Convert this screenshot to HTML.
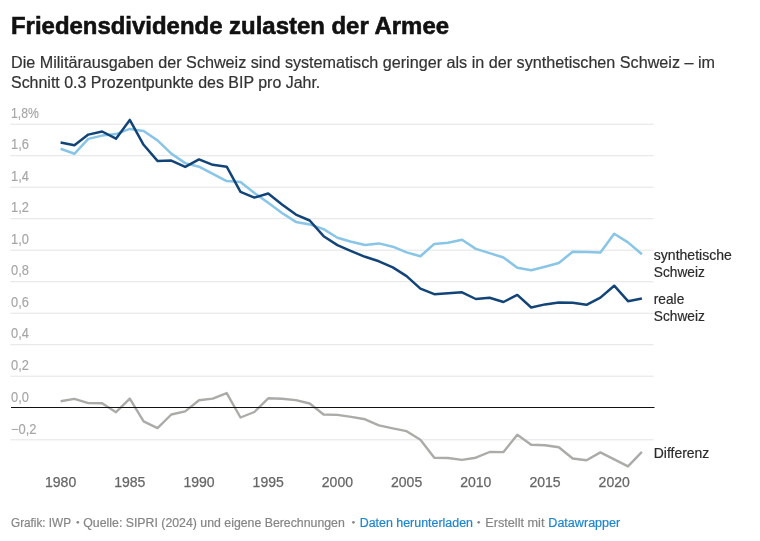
<!DOCTYPE html>
<html><head><meta charset="utf-8"><style>
html,body{margin:0;padding:0;background:#fff;width:760px;height:541px;overflow:hidden}
svg{display:block;will-change:transform}
text{font-family:"Liberation Sans", sans-serif}
.t{font-size:24.8px;font-weight:bold;fill:#111;stroke:#111;stroke-width:0.6px}
.s{font-size:16px;fill:#333;stroke:#333;stroke-width:0.2px}
.yl{font-size:14px;fill:#a6a6a6;stroke:#a6a6a6;stroke-width:0.15px}
.xl{font-size:14.1px;fill:#666;stroke:#666;stroke-width:0.25px}
.ll{font-size:14.3px;fill:#2a2a2a;stroke:#2a2a2a;stroke-width:0.2px}
.f{font-size:12px;fill:#858585;stroke:#858585;stroke-width:0.2px}
.lk{fill:#1d86cf;stroke:#1d86cf}
</style></head><body>
<svg width="760" height="541" viewBox="0 0 760 541">
<text x="11" y="34.1" class="t" textLength="438" lengthAdjust="spacingAndGlyphs">Friedensdividende zulasten der Armee</text>
<text x="11" y="67.7" class="s" textLength="704" lengthAdjust="spacingAndGlyphs">Die Militärausgaben der Schweiz sind systematisch geringer als in der synthetischen Schweiz – im</text>
<text x="11" y="87.6" class="s" textLength="309.3" lengthAdjust="spacingAndGlyphs">Schnitt 0.3 Prozentpunkte des BIP pro Jahr.</text>
<line x1="10.3" x2="653.5" y1="124.2" y2="124.2" stroke="#e4e4e4" stroke-width="1"/>
<line x1="10.3" x2="653.5" y1="155.7" y2="155.7" stroke="#e4e4e4" stroke-width="1"/>
<line x1="10.3" x2="653.5" y1="187.2" y2="187.2" stroke="#e4e4e4" stroke-width="1"/>
<line x1="10.3" x2="653.5" y1="218.7" y2="218.7" stroke="#e4e4e4" stroke-width="1"/>
<line x1="10.3" x2="653.5" y1="250.2" y2="250.2" stroke="#e4e4e4" stroke-width="1"/>
<line x1="10.3" x2="653.5" y1="281.7" y2="281.7" stroke="#e4e4e4" stroke-width="1"/>
<line x1="10.3" x2="653.5" y1="313.2" y2="313.2" stroke="#e4e4e4" stroke-width="1"/>
<line x1="10.3" x2="653.5" y1="344.7" y2="344.7" stroke="#e4e4e4" stroke-width="1"/>
<line x1="10.3" x2="653.5" y1="376.2" y2="376.2" stroke="#e4e4e4" stroke-width="1"/>
<line x1="10.3" x2="653.5" y1="439.8" y2="439.8" stroke="#e4e4e4" stroke-width="1"/>
<text x="11" y="117.6" class="yl" textLength="27.7" lengthAdjust="spacingAndGlyphs">1,8%</text>
<text x="11" y="149.1" class="yl" textLength="17.9" lengthAdjust="spacingAndGlyphs">1,6</text>
<text x="11" y="180.6" class="yl" textLength="17.9" lengthAdjust="spacingAndGlyphs">1,4</text>
<text x="11" y="212.1" class="yl" textLength="17.9" lengthAdjust="spacingAndGlyphs">1,2</text>
<text x="11" y="243.6" class="yl" textLength="17.9" lengthAdjust="spacingAndGlyphs">1,0</text>
<text x="11" y="275.1" class="yl" textLength="17.9" lengthAdjust="spacingAndGlyphs">0,8</text>
<text x="11" y="306.6" class="yl" textLength="17.9" lengthAdjust="spacingAndGlyphs">0,6</text>
<text x="11" y="338.1" class="yl" textLength="17.9" lengthAdjust="spacingAndGlyphs">0,4</text>
<text x="11" y="369.6" class="yl" textLength="17.9" lengthAdjust="spacingAndGlyphs">0,2</text>
<text x="11" y="401.6" class="yl" textLength="17.9" lengthAdjust="spacingAndGlyphs">0,0</text>
<text x="11" y="434.2" class="yl" textLength="25.5" lengthAdjust="spacingAndGlyphs">−0,2</text>
<text x="60.6" y="486.8" class="xl" text-anchor="middle" textLength="31.2" lengthAdjust="spacingAndGlyphs">1980</text>
<text x="129.8" y="486.8" class="xl" text-anchor="middle" textLength="31.2" lengthAdjust="spacingAndGlyphs">1985</text>
<text x="199.0" y="486.8" class="xl" text-anchor="middle" textLength="31.2" lengthAdjust="spacingAndGlyphs">1990</text>
<text x="268.2" y="486.8" class="xl" text-anchor="middle" textLength="31.2" lengthAdjust="spacingAndGlyphs">1995</text>
<text x="337.4" y="486.8" class="xl" text-anchor="middle" textLength="31.2" lengthAdjust="spacingAndGlyphs">2000</text>
<text x="406.6" y="486.8" class="xl" text-anchor="middle" textLength="31.2" lengthAdjust="spacingAndGlyphs">2005</text>
<text x="475.8" y="486.8" class="xl" text-anchor="middle" textLength="31.2" lengthAdjust="spacingAndGlyphs">2010</text>
<text x="545.0" y="486.8" class="xl" text-anchor="middle" textLength="31.2" lengthAdjust="spacingAndGlyphs">2015</text>
<text x="614.2" y="486.8" class="xl" text-anchor="middle" textLength="31.2" lengthAdjust="spacingAndGlyphs">2020</text>
<polyline points="60.6,401.3 74.4,398.9 88.3,403.1 102.1,403.3 116.0,412.2 129.8,398.6 143.6,421.4 157.5,428.1 171.3,414.5 185.2,411.4 199.0,400.3 212.8,398.6 226.7,393.1 240.5,417.5 254.4,412.0 268.2,398.3 282.0,398.8 295.9,400.1 309.7,403.5 323.6,414.5 337.4,414.9 351.2,416.9 365.1,419.3 378.9,425.4 392.8,428.3 406.6,431.2 420.4,439.8 434.3,457.7 448.1,458.0 462.0,459.9 475.8,457.7 489.6,452.0 503.5,452.1 517.3,434.7 531.2,444.7 545.0,445.2 558.8,447.2 572.7,458.5 586.5,460.2 600.4,452.4 614.2,459.4 628.0,466.4 641.9,451.9" fill="none" stroke="#abaca8" stroke-width="2.4" stroke-linejoin="round"/>
<polyline points="60.6,148.8 74.4,153.8 88.3,138.9 102.1,135.6 116.0,134.1 129.8,128.9 143.6,131.0 157.5,140.4 171.3,153.6 185.2,163.1 199.0,166.7 212.8,173.8 226.7,181.1 240.5,182.0 254.4,193.0 268.2,202.8 282.0,213.0 295.9,221.9 309.7,224.4 323.6,229.1 337.4,237.7 351.2,241.7 365.1,245.0 378.9,243.4 392.8,246.7 406.6,252.4 420.4,256.3 434.3,243.9 448.1,242.8 462.0,239.8 475.8,248.9 489.6,253.1 503.5,257.5 517.3,267.8 531.2,270.2 545.0,266.7 558.8,263.0 572.7,251.7 586.5,252.0 600.4,252.6 614.2,233.8 628.0,242.4 641.9,254.2" fill="none" stroke="#88c5e7" stroke-width="2.5" stroke-linejoin="round"/>
<polyline points="60.6,142.6 74.4,145.2 88.3,134.6 102.1,131.5 116.0,138.7 129.8,119.9 143.6,144.8 157.5,160.9 171.3,160.6 185.2,166.9 199.0,159.4 212.8,164.8 226.7,166.7 240.5,191.9 254.4,197.6 268.2,193.5 282.0,204.4 295.9,214.6 309.7,220.5 323.6,236.2 337.4,245.1 351.2,251.1 365.1,256.8 378.9,261.3 392.8,267.4 406.6,276.1 420.4,288.7 434.3,294.2 448.1,293.3 462.0,292.3 475.8,299.0 489.6,297.7 503.5,302.0 517.3,294.9 531.2,307.5 545.0,304.4 558.8,302.6 572.7,302.7 586.5,304.8 600.4,297.6 614.2,285.7 628.0,301.2 641.9,298.6" fill="none" stroke="#134478" stroke-width="2.5" stroke-linejoin="round"/>
<line x1="11" x2="654.5" y1="407.5" y2="407.5" stroke="#111" stroke-width="1.1"/>
<text x="653.8" y="260.2" class="ll" textLength="78" lengthAdjust="spacingAndGlyphs">synthetische</text>
<text x="653.8" y="277.2" class="ll" textLength="51" lengthAdjust="spacingAndGlyphs">Schweiz</text>
<text x="653.8" y="303.9" class="ll" textLength="30.5" lengthAdjust="spacingAndGlyphs">reale</text>
<text x="653.8" y="320.9" class="ll" textLength="51" lengthAdjust="spacingAndGlyphs">Schweiz</text>
<text x="653.8" y="458" class="ll" textLength="55.5" lengthAdjust="spacingAndGlyphs">Differenz</text>
<text x="11" y="527" class="f" textLength="60" lengthAdjust="spacingAndGlyphs">Grafik: IWP</text>
<circle cx="77.8" cy="522.3" r="1.35" fill="#8a8a8a"/>
<text x="83.3" y="527" class="f" textLength="261.5" lengthAdjust="spacingAndGlyphs">Quelle: SIPRI (2024) und eigene Berechnungen</text>
<circle cx="353.4" cy="522.3" r="1.35" fill="#8a8a8a"/>
<text x="359.7" y="527" class="f lk" textLength="113.3" lengthAdjust="spacingAndGlyphs">Daten herunterladen</text>
<circle cx="478.7" cy="522.3" r="1.35" fill="#8a8a8a"/>
<text x="485.2" y="527" class="f" textLength="59.3" lengthAdjust="spacingAndGlyphs">Erstellt mit</text>
<text x="548.3" y="527" class="f lk" textLength="72" lengthAdjust="spacingAndGlyphs">Datawrapper</text>
</svg>
</body></html>
